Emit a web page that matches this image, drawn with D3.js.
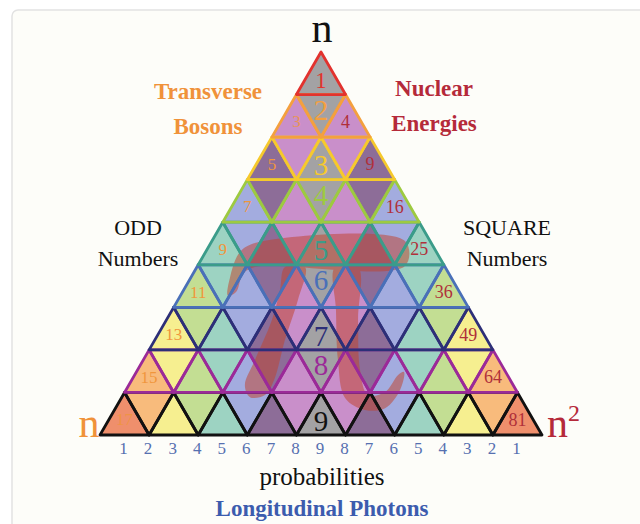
<!DOCTYPE html>
<html><head><meta charset="utf-8">
<script src="https://cdn.jsdelivr.net/npm/d3@7"></script>
<style>html,body{margin:0;padding:0;background:#fff;}svg{display:block;}</style>
</head><body>
<svg id="c" width="640" height="524"></svg>
<script>
// ---- data ----
const rows = [0,1,2,3,4,5,6,7,8];                    // 9 rows of the triangle (n = 1..9)
const centerNumbers = [1,2,3,4,5,6,7,8,9];           // n
const oddNumbers = [1,3,5,7,9,11,13,15,17];          // 2n-1
const squareNumbers = [1,4,9,16,25,36,49,64,81];     // n^2
const probabilities = [1,2,3,4,5,6,7,8,9,8,7,6,5,4,3,2,1];
const ringColors = ["#a3a2a4","#c98fca","#8d6d98","#a3acdf","#9dd3c2","#c3de93","#f6ef90","#f8bb7c","#ef8f6c"]; // by distance from centre
const rowColors = ["#e2322e","#f4a03e","#f6c92c","#9dca40","#3b9c8a","#4a70b8","#2d2f78","#9b2a98","#111111"];
const piBar = [[3.42,4.44],[3.42,5.03],[-2.69,5.05],[-3.18,5.22],[-3.46,5.64],[-3.79,5.73],[-3.71,5.31],[-3.30,4.70],[-2.57,4.47]];
const piLeft = [[-1.47,5.05],[-0.65,5.05],[-0.94,5.83],[-1.47,6.77],[-1.91,7.71],[-2.28,8.06],[-2.89,8.11],[-3.10,7.83],[-2.69,7.24],[-2.00,6.30],[-1.67,5.59]];
const piRight = [[0.57,5.05],[1.51,5.05],[1.51,6.30],[1.59,7.47],[1.91,8.06],[2.61,7.99],[3.14,7.59],[3.38,7.52],[3.22,7.94],[2.61,8.37],[1.79,8.41],[0.98,8.13],[0.69,7.24],[0.61,6.06]];

// ---- drawing ----
const svg = d3.select("#c");
const serif = "'Liberation Serif','DejaVu Serif',serif";
svg.append("rect").attr("x",12).attr("y",10).attr("width",640).attr("height",530).attr("rx",6)
  .attr("fill","#fdfdf9").attr("stroke","#e2e2e2").attr("stroke-width",1.5);

const x = d3.scaleLinear().domain([-9,9]).range([100,542]);
const y = d3.scaleLinear().domain([0,9]).range([52,435]);

// build triangles
const tris = [];
rows.forEach(r=>{
  for(let j=0;j<=2*r;j++){
    const k = Math.floor(j/2);
    let pts;
    if(j%2===0){
      pts=[[-r+2*k,r],[-(r+1)+2*k,r+1],[-(r+1)+2*k+2,r+1]];
    } else {
      pts=[[-r+2*k,r],[-r+2*k+2,r],[-(r+1)+2*k+2,r+1]];
    }
    tris.push({r,j,up:j%2===0,d:Math.abs(j-r),pts});
  }
});
const path = p => "M"+p.map(q=>x(q[0])+","+y(q[1])).join("L")+"Z";

const gFill = svg.append("g");
gFill.selectAll("path").data(tris).join("path")
  .attr("d",t=>path(t.pts)).attr("fill",t=>ringColors[t.d]).attr("stroke",t=>ringColors[t.d]).attr("stroke-width",0.5);

// pi overlay
const piLine = d3.line().x(p=>x(p[0])).y(p=>y(p[1])).curve(d3.curveCatmullRomClosed.alpha(0.5));
const gPi = svg.append("g").attr("opacity",0.52);
[piBar,piLeft,piRight].forEach(s=>{
  gPi.append("path").attr("d",piLine(s)).attr("fill","#c0442e");
});

// strokes: draw rows bottom-up so upper row edges win
const gStroke = svg.append("g");
rows.slice().reverse().forEach(r=>{
  gStroke.selectAll(null).data(tris.filter(t=>t.r===r)).join("path")
    .attr("d",t=>path(t.pts)).attr("fill","none").attr("stroke",rowColors[r])
    .attr("stroke-width",2.8).attr("stroke-linejoin","round");
});

// numbers
const cy = t => y(t.r + (t.up?0.64:0.36));
const gNum = svg.append("g").attr("font-family",serif).attr("text-anchor","middle").attr("dominant-baseline","central");
rows.forEach(r=>{
  const c = tris.find(t=>t.r===r && t.j===r);
  gNum.append("text").attr("x",x(c.j-r)).attr("y",cy(c)+(c.up?1:0)).attr("font-size",r===0?23:29)
    .attr("fill",rowColors[r]).text(centerNumbers[r]);
  if(r>0){
    const L = tris.find(t=>t.r===r && t.j===0);
    const R = tris.find(t=>t.r===r && t.j===2*r);
    gNum.append("text").attr("x",x(-r)).attr("y",cy(L)).attr("font-size",17)
      .attr("fill","#f0963c").attr("opacity",r===1||r===8?0.8:1).text(oddNumbers[r]);
    gNum.append("text").attr("x",x(r)).attr("y",cy(R)).attr("font-size",18)
      .attr("fill","#b0303a").text(squareNumbers[r]);
  }
});

// bottom probabilities numbers
svg.append("g").attr("font-family",serif).attr("text-anchor","middle").attr("font-size",17).attr("fill","#5670b0")
  .selectAll("text").data(probabilities).join("text")
  .attr("x",(v,i)=>x(i-8)-1).attr("y",454).text(v=>v);

// labels
const lab = (t,px,py,size,fill,weight)=>svg.append("text").attr("x",px).attr("y",py).attr("text-anchor","middle")
  .attr("font-family",serif).attr("font-size",size).attr("fill",fill).attr("font-weight",weight||"normal").text(t);
lab("n",322,42,42,"#111");
lab("Transverse",208,99,23,"#f0923a","bold");
lab("Bosons",208,134,23,"#f0923a","bold");
lab("Nuclear",434,96,23,"#b52a3a","bold");
lab("Energies",434,131,23,"#b52a3a","bold");
lab("ODD",138,235,22,"#111");
lab("Numbers",138,266,22,"#111");
lab("SQUARE",507,235,22,"#111");
lab("Numbers",507,266,22,"#111");
lab("n",89,437,42,"#f0923a");
const n2 = svg.append("text").attr("x",547).attr("y",437).attr("font-family",serif).attr("font-size",42).attr("fill","#b52a3a");
n2.append("tspan").text("n");
n2.append("tspan").attr("font-size",24).attr("dy",-16).text("2");
lab("probabilities",322,485,25,"#111");
lab("Longitudinal Photons",322,516,23,"#3c5cae","bold");
</script>
</body></html>
